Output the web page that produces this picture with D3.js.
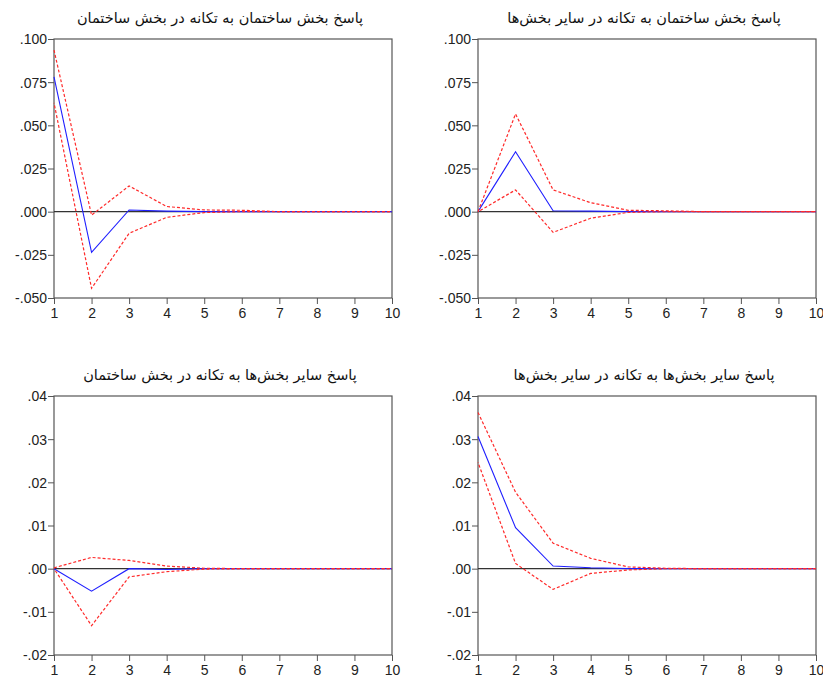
<!DOCTYPE html>
<html>
<head>
<meta charset="utf-8">
<script src="https://cdn.jsdelivr.net/npm/d3@7"></script>
<style>
  body { margin: 0; background: #fff; }
  svg { display: block; }
  .tick-label { font-family: "Liberation Sans", Arial, sans-serif; font-size: 14px; fill: #222; }
  .title { font-family: "DejaVu Sans", sans-serif; font-size: 14.5px; fill: #111; }
</style>
</head>
<body>
<svg id="chart" width="823" height="679"></svg>
<script>
const periods = [1, 2, 3, 4, 5, 6, 7, 8, 9, 10];

const titles = [
  "پاسخ بخش ساختمان به تکانه در بخش ساختمان",
  "پاسخ بخش ساختمان به تکانه در سایر بخش‌ها",
  "پاسخ سایر بخش‌ها به تکانه در بخش ساختمان",
  "پاسخ سایر بخش‌ها به تکانه در سایر بخش‌ها"
];

// response, upper and lower bands per panel
const resp1 = [0.078, -0.0235, 0.001, 0.0003, 0, 0, 0, 0, 0, 0];
const upper1 = [0.0936, -0.002, 0.0149, 0.003, 0.001, 0.0008, 0, 0, 0, 0];
const lower1 = [0.063, -0.0444, -0.0125, -0.0033, -0.0005, 0, 0, 0, 0, 0];

const resp2 = [0, 0.0347, 0.0005, 0.0003, 0, 0, 0, 0, 0, 0];
const upper2 = [0, 0.0566, 0.0126, 0.0052, 0.0008, 0.0005, 0, 0, 0, 0];
const lower2 = [0, 0.0126, -0.012, -0.0038, -0.0004, 0, 0, 0, 0, 0];

const resp3 = [0, -0.0052, 0, -0.0002, 0, 0, 0, 0, 0, 0];
const upper3 = [0.0002, 0.0026, 0.0019, 0.0006, 0.0001, 0, 0, 0, 0, 0];
const lower3 = [0, -0.0132, -0.0019, -0.0007, -0.0001, 0, 0, 0, 0, 0];

const resp4 = [0.0306, 0.0095, 0.0006, 0.0002, 0, 0, 0, 0, 0, 0];
const upper4 = [0.0362, 0.0177, 0.0059, 0.0024, 0.0004, 0.0001, 0, 0, 0, 0];
const lower4 = [0.0246, 0.0012, -0.0048, -0.0011, -0.0003, 0, 0, 0, 0, 0];

const ticksTop = [-0.05, -0.025, 0, 0.025, 0.05, 0.075, 0.1];
const ticksBottom = [-0.02, -0.01, 0, 0.01, 0.02, 0.03, 0.04];

const panels = [
  { title: titles[0], resp: resp1, upper: upper1, lower: lower1, ticks: ticksTop, digits: 3, x0: 54, y0: 39 },
  { title: titles[1], resp: resp2, upper: upper2, lower: lower2, ticks: ticksTop, digits: 3, x0: 478, y0: 39 },
  { title: titles[2], resp: resp3, upper: upper3, lower: lower3, ticks: ticksBottom, digits: 2, x0: 54, y0: 396 },
  { title: titles[3], resp: resp4, upper: upper4, lower: lower4, ticks: ticksBottom, digits: 2, x0: 478, y0: 396 }
];

const W = 338, H = 259;
const svg = d3.select("#chart");

// eviews style labels: ".050", "-.025"
const fmtTick = (v, digits) => {
  const s = Math.abs(v).toFixed(digits).replace(/^0/, "");
  return v < 0 ? "-" + s : s;
};

panels.forEach((p) => {
  const g = svg.append("g").attr("transform", `translate(${p.x0},${p.y0})`);
  const x = d3.scaleLinear().domain([1, 10]).range([0, W]);
  const y = d3.scaleLinear().domain(d3.extent(p.ticks)).range([H, 0]);

  g.append("text")
    .attr("class", "title")
    .attr("x", W / 2 - 3)
    .attr("y", -16)
    .attr("text-anchor", "middle")
    .attr("direction", "rtl")
    .text(p.title);

  // frame
  g.append("rect")
    .attr("width", W).attr("height", H)
    .attr("fill", "none").attr("stroke", "#555").attr("stroke-width", 1.2);

  // y axis
  const yAxis = d3.axisLeft(y).tickValues(p.ticks).tickSize(6).tickFormat((d) => fmtTick(d, p.digits));
  const ya = g.append("g").call(yAxis);
  ya.select(".domain").remove();
  ya.selectAll("line").attr("stroke", "#555");
  ya.selectAll("text").attr("class", "tick-label").attr("x", -7).attr("dy", "0.35em");

  // x axis
  const xAxis = d3.axisBottom(x).tickValues(periods).tickSize(6);
  const xa = g.append("g").attr("transform", `translate(0,${H})`).call(xAxis);
  xa.select(".domain").remove();
  xa.selectAll("line").attr("stroke", "#555");
  xa.selectAll("text").attr("class", "tick-label").attr("y", 10).attr("dy", "0.71em");

  // zero line
  g.append("line")
    .attr("x1", 0).attr("x2", W).attr("y1", y(0)).attr("y2", y(0))
    .attr("stroke", "#333").attr("stroke-width", 1.1);

  const line = d3.line().x((d, i) => x(periods[i])).y((d) => y(d));

  g.append("path").datum(p.resp)
    .attr("d", line).attr("fill", "none")
    .attr("stroke", "#1f1fff").attr("stroke-width", 1.1);

  g.append("path").datum(p.upper)
    .attr("d", line).attr("fill", "none")
    .attr("stroke", "#ff2a2a").attr("stroke-width", 1.2)
    .attr("stroke-dasharray", "3,2");

  g.append("path").datum(p.lower)
    .attr("d", line).attr("fill", "none")
    .attr("stroke", "#ff2a2a").attr("stroke-width", 1.2)
    .attr("stroke-dasharray", "3,2").attr("stroke-dashoffset", 2.5);
});
</script>
</body>
</html>
